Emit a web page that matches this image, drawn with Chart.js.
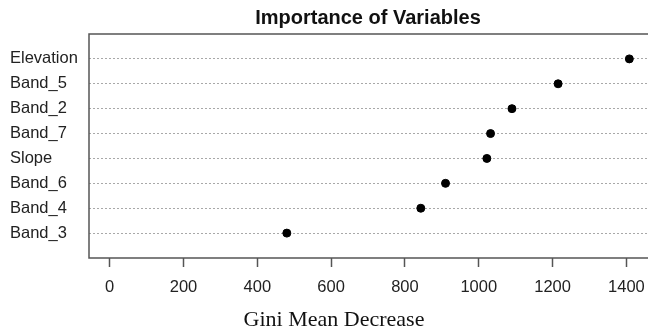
<!DOCTYPE html>
<html>
<head>
<meta charset="utf-8">
<script src="https://cdn.jsdelivr.net/npm/chart.js@4/dist/chart.umd.min.js"></script>
<style>
    html, body { margin: 0; padding: 0; background: #fff; overflow: hidden; }
    #wrap { width: 660px; height: 330px; }
</style>
</head>
<body>
<div id="wrap"><canvas id="dotChart" width="660" height="330"></canvas></div>
<script>
const variables = ['Elevation', 'Band_5', 'Band_2', 'Band_7', 'Slope', 'Band_6', 'Band_4', 'Band_3'];
const giniValues = [1408, 1215, 1090, 1032, 1022, 910, 843, 480];
const xTicks = [0, 200, 400, 600, 800, 1000, 1200, 1400];
const chartTitle = 'Importance of Variables';
const xTitle = 'Gini Mean Decrease';

// dotchart style: first variable on top
const points = giniValues.map((v, i) => ({ x: v, y: variables.length - i }));

const frameAndText = {
    id: 'frameAndText',
    afterDraw(chart) {
        const { ctx, chartArea } = chart;
        ctx.save();
        ctx.strokeStyle = '#555';
        ctx.lineWidth = 1.5;
        ctx.strokeRect(chartArea.left, chartArea.top, chartArea.right - chartArea.left, chartArea.bottom - chartArea.top);

        ctx.fillStyle = '#111';
        ctx.textAlign = 'center';
        ctx.textBaseline = 'alphabetic';
        ctx.font = 'bold 20px "Liberation Sans", Arial, sans-serif';
        ctx.fillText(chartTitle, 368, 24);

        ctx.font = '22px "Liberation Serif", "Times New Roman", serif';
        ctx.fillText(xTitle, 334, 326);
        ctx.restore();
    }
};

new Chart(document.getElementById('dotChart'), {
    type: 'scatter',
    data: {
        datasets: [{
            data: points,
            backgroundColor: '#000',
            borderColor: '#000',
            pointRadius: 4,
            pointHoverRadius: 4
        }]
    },
    options: {
        responsive: false,
        animation: false,
        layout: { padding: { top: 34, left: 10, right: 10, bottom: 0 } },
        plugins: {
            legend: { display: false },
            tooltip: { enabled: false }
        },
        scales: {
            x: {
                type: 'linear',
                min: -56,
                max: 1464,
                afterBuildTicks: scale => {
                    scale.ticks = xTicks.map(v => ({ value: v }));
                },
                afterFit: scale => {
                    scale.height = 72;
                },
                grid: {
                    drawOnChartArea: false,
                    drawTicks: true,
                    tickLength: 9,
                    tickColor: '#555',
                    tickWidth: 1.5
                },
                border: { display: false },
                ticks: {
                    padding: 11,
                    color: '#222',
                    font: { family: '"Liberation Sans", Arial, sans-serif', size: 16.5 },
                    callback: value => String(value)
                }
            },
            y: {
                type: 'linear',
                min: 0,
                max: 9,
                afterBuildTicks: scale => {
                    scale.ticks = variables.map((v, i) => ({ value: variables.length - i }));
                },
                afterFit: scale => {
                    scale.width = 79;
                },
                grid: {
                    drawOnChartArea: true,
                    drawTicks: false,
                    color: '#a8a8a8',
                    lineWidth: 1
                },
                border: { display: false, dash: [2, 2] },
                ticks: {
                    crossAlign: 'far',
                    padding: 0,
                    color: '#222',
                    font: { family: '"Liberation Sans", Arial, sans-serif', size: 16.5 },
                    callback: value => variables[variables.length - value]
                }
            }
        }
    },
    plugins: [frameAndText]
});
</script>
</body>
</html>
